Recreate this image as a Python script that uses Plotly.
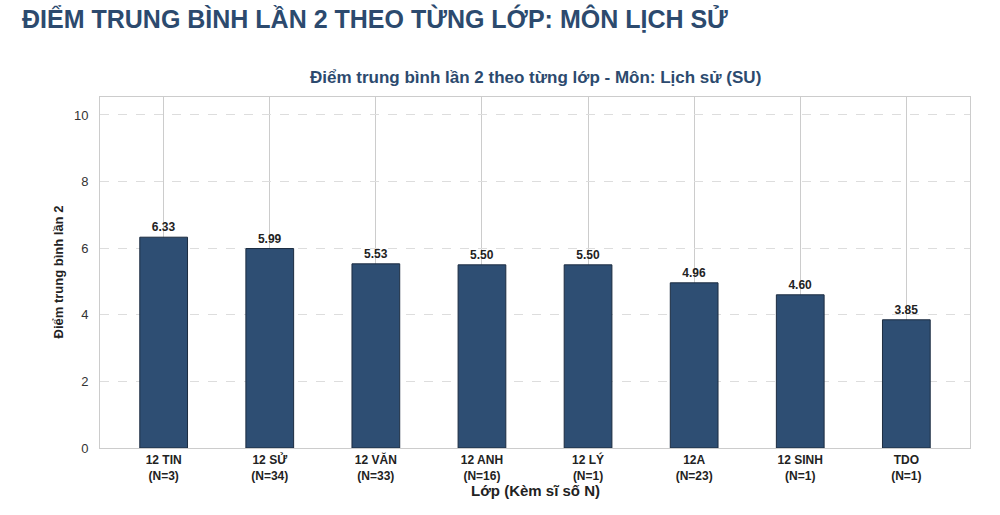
import plotly.graph_objects as go

# data
classes = ["12 TIN", "12 SỬ", "12 VĂN", "12 ANH", "12 LÝ", "12A", "12 SINH", "TDO"]
counts = [3, 34, 33, 16, 1, 23, 1, 1]
scores = [6.33, 5.99, 5.53, 5.50, 5.50, 4.96, 4.60, 3.85]
y_ticks = [0, 2, 4, 6, 8, 10]

labels = [f"{c}<br>(N={n})" for c, n in zip(classes, counts)]

NAVY = "#2c4a6e"
BAR = "#2e4e73"

fig = go.Figure()
fig.add_trace(
    go.Bar(
        x=labels,
        y=scores,
        width=0.45,
        marker=dict(color=BAR, line=dict(color="#1c2c40", width=1)),
        text=[f"{v:.2f}" for v in scores],
        textposition="outside",
        textfont=dict(family="Liberation Sans, Arial", size=12, color="#222222"),
        texttemplate="<b>%{text}</b>",
        cliponaxis=False,
        hoverinfo="x+y",
    )
)

fig.update_layout(
    width=1000,
    height=515,
    margin=dict(l=100, r=30, t=97, b=67),
    paper_bgcolor="white",
    plot_bgcolor="white",
    showlegend=False,
    font=dict(family="Liberation Sans, Arial", color="#222222"),
    title=dict(
        text="<b>ĐIỂM TRUNG BÌNH LẦN 2 THEO TỪNG LỚP: MÔN LỊCH SỬ</b>",
        font=dict(family="Liberation Sans, Arial", size=25, color=NAVY),
        x=0.022,
        xanchor="left",
        xref="container",
        y=1 - 19 / 515,
        yanchor="middle",
        yref="container",
    ),
    xaxis=dict(
        type="category",
        range=[-0.6, 7.6],
        showgrid=True,
        gridcolor="#cccccc",
        gridwidth=1,
        showline=True,
        linecolor="#cccccc",
        linewidth=1,
        mirror=True,
        ticks="",
        tickfont=dict(size=12, color="#222222"),
        tickprefix="<b>",
        ticksuffix="</b>",
        ticklabelstandoff=1,
    ),
    yaxis=dict(
        range=[0, 10.54],
        tickvals=y_ticks,
        showgrid=True,
        gridcolor="#dddddd",
        griddash="dash",
        gridwidth=1,
        showline=True,
        linecolor="#cccccc",
        linewidth=1,
        mirror=True,
        zeroline=False,
        ticks="",
        tickfont=dict(size=13, color="#333333"),
        ticklabelstandoff=8,
    ),
    annotations=[
        dict(
            text="<b>Điểm trung bình lần 2 theo từng lớp - Môn: Lịch sử (SU)</b>",
            xref="paper", yref="paper", x=0.5, y=1 + 20 / 351,
            xanchor="center", yanchor="middle", showarrow=False,
            font=dict(size=17, color=NAVY),
        ),
        dict(
            text="<b>Lớp (Kèm sĩ số N)</b>",
            xref="paper", yref="paper", x=0.5, y=-42 / 351,
            xanchor="center", yanchor="middle", showarrow=False,
            font=dict(size=15, color="#222222"),
        ),
        dict(
            text="<b>Điểm trung bình lần 2</b>",
            xref="paper", yref="paper", x=-42 / 870, y=0.5,
            xanchor="center", yanchor="middle", showarrow=False,
            textangle=-90,
            font=dict(size=13, color="#222222"),
        ),
    ],
)

# drop the browser's default 8px body margin so the figure sits at the window corner
fig.write_html(
    "out.html",
    config={"displayModeBar": False},
    post_script="document.body.style.margin='0px';",
)
